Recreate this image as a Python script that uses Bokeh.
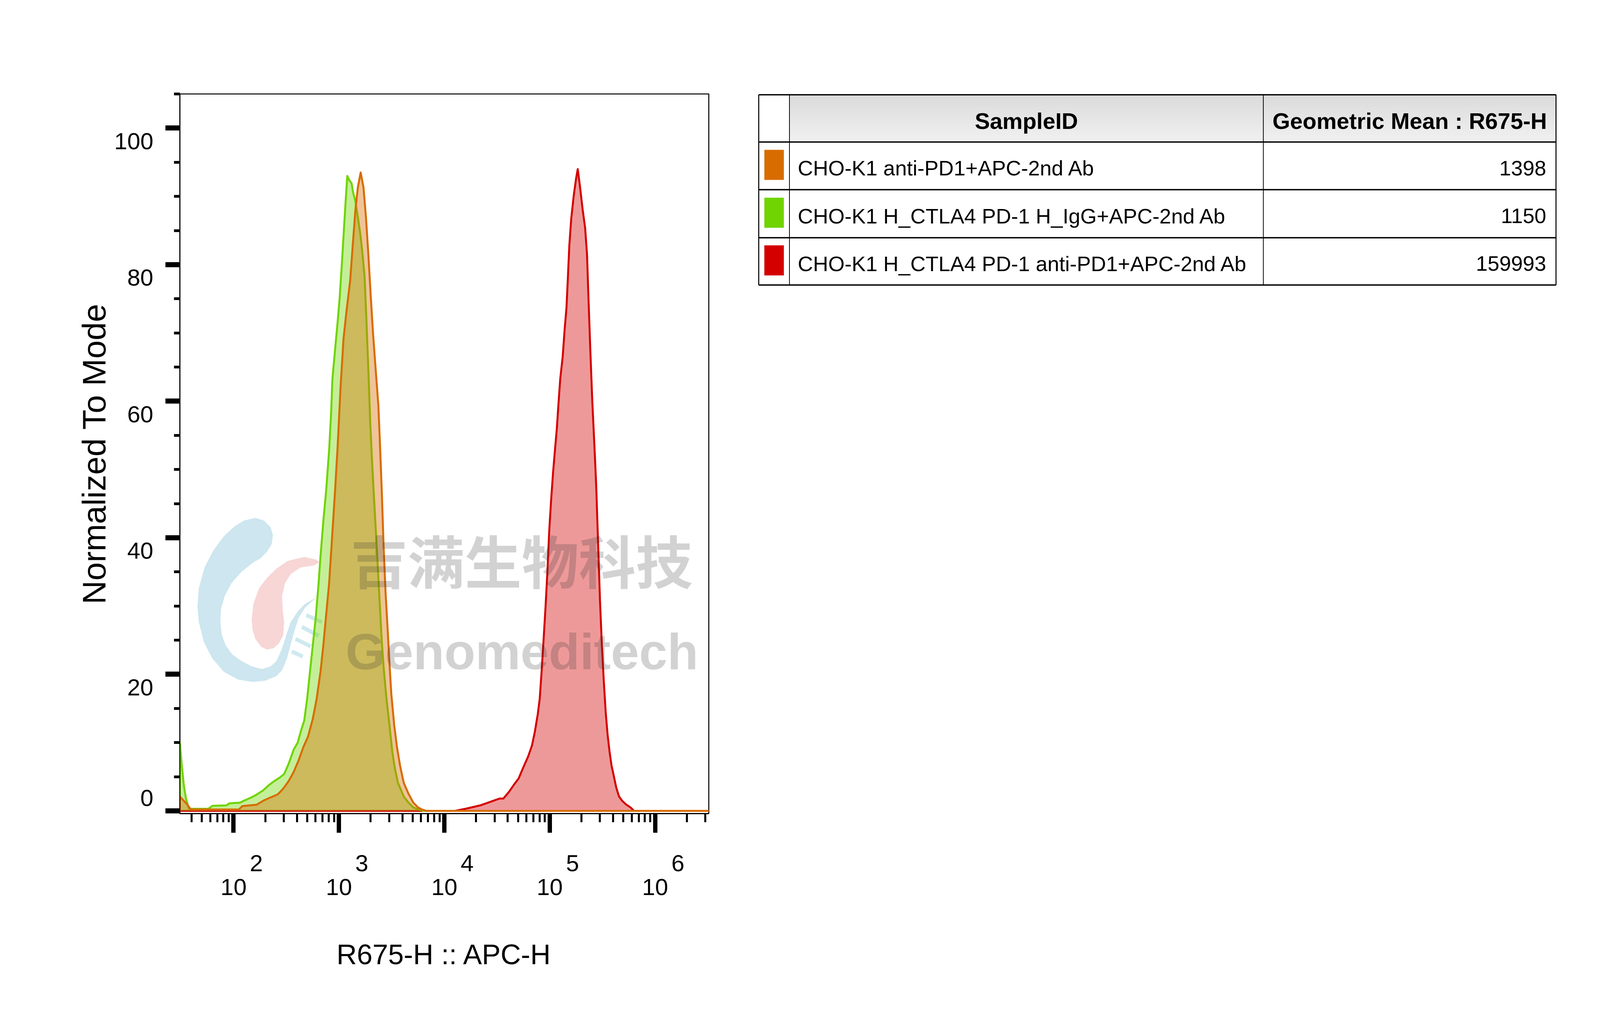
import math
from bokeh.plotting import figure
from bokeh.models import Range1d, FixedTicker, CustomJSTickFormatter, Label
from bokeh.layouts import row
from bokeh.embed import file_html
from bokeh.resources import INLINE
from bokeh.core.properties import value

FONT = "Liberation Sans"
CJK_FONT = "Noto Sans CJK SC"

# ------------------------------------------------------------------ data
sample_ids = [
    "CHO-K1 anti-PD1+APC-2nd Ab",
    "CHO-K1 H_CTLA4 PD-1 H_IgG+APC-2nd Ab",
    "CHO-K1 H_CTLA4 PD-1 anti-PD1+APC-2nd Ab",
]
geo_means = [1398, 1150, 159993]
series_colors = ["#d86c00", "#6fd400", "#d40000"]
table_headers = ["SampleID", "Geometric Mean : R675-H"]

x_axis_title = "R675-H :: APC-H"
y_axis_title = "Normalized To Mode"
x_decades = [2, 3, 4, 5, 6]
y_major_ticks = [0, 20, 40, 60, 80, 100]

# log10(R675-H) positions and "Normalized To Mode" values
orange_log_x = [1.4905, 1.4905, 1.52, 1.557, 1.595, 2.05, 2.083, 2.15, 2.217, 2.283, 2.341, 2.418,
                2.456, 2.480, 2.525, 2.571, 2.616, 2.661, 2.707, 2.752, 2.788, 2.825, 2.852, 2.879,
                2.907, 2.934, 2.961, 2.988, 3.015, 3.043, 3.070, 3.106, 3.134, 3.156, 3.179, 3.206,
                3.233, 3.256, 3.279, 3.302, 3.324, 3.352, 3.374, 3.388, 3.406, 3.424, 3.442, 3.461,
                3.479, 3.497, 3.524, 3.551, 3.579, 3.615, 3.660, 3.706, 3.751, 3.788, 3.83, 6.5095]
orange_mode = [0, 2.1, 1.6, 1.0, 0.2, 0.2, 0.7, 0.8, 0.9, 1.5, 1.9, 2.4,
               3.0, 3.44, 4.42, 5.72, 7.35, 9.3, 10.9, 13.5, 16.4, 20.4, 24.3, 28.8,
               33.4, 39.9, 46.4, 53.5, 62.0, 69.1, 73.0, 77.6, 83.5, 88.0, 91.3, 93.5,
               91.3, 87.0, 81.5, 75.3, 69.8, 63.9, 59.4, 54.2, 47.0, 38.6, 32.1, 26.9,
               21.7, 17.1, 12.6, 9.3, 6.7, 4.1, 2.5, 1.2, 0.5, 0.2, 0.0, 0.0]

green_log_x = [1.4905, 1.4905, 1.509, 1.528, 1.547, 1.576, 1.76, 1.80, 1.93, 1.96, 2.06, 2.10,
               2.16, 2.21, 2.28, 2.33, 2.38, 2.44, 2.48, 2.525, 2.571, 2.607, 2.643, 2.670,
               2.698, 2.725, 2.752, 2.779, 2.807, 2.825, 2.852, 2.879, 2.907, 2.925, 2.938, 2.961,
               2.988, 3.006, 3.025, 3.043, 3.061, 3.079, 3.097, 3.120, 3.134, 3.156, 3.179, 3.206,
               3.224, 3.243, 3.261, 3.279, 3.297, 3.315, 3.333, 3.352, 3.370, 3.388, 3.406, 3.424,
               3.451, 3.479, 3.506, 3.533, 3.560, 3.615, 3.660, 3.706, 3.760, 3.80, 6.5095]
green_mode = [0, 10.0, 6.6, 3.75, 1.9, 0.3, 0.3, 0.75, 0.8, 1.1, 1.2, 1.5,
              1.9, 2.3, 3.0, 3.7, 4.3, 4.9, 5.4, 7.0, 9.0, 9.95, 11.9, 13.2,
              16.4, 20.4, 24.3, 28.2, 33.4, 37.3, 42.5, 47.0, 52.9, 58.1, 63.3, 67.2,
              71.7, 75.0, 79.5, 84.1, 88.7, 93.0, 92.4, 91.9, 90.6, 89.3, 87.0, 84.1,
              81.5, 78.3, 71.7, 64.6, 56.8, 50.9, 45.7, 40.5, 35.3, 30.1, 24.9, 21.0,
              16.4, 12.6, 8.65, 6.05, 4.1, 2.1, 1.2, 0.5, 0.2, 0.0, 0.0]

red_log_x = [1.4905, 4.10, 4.20, 4.34, 4.45, 4.523, 4.560, 4.614, 4.659, 4.705, 4.750, 4.796,
             4.832, 4.859, 4.887, 4.905, 4.923, 4.941, 4.959, 4.977, 4.996, 5.014, 5.032, 5.050,
             5.068, 5.082, 5.100, 5.123, 5.141, 5.159, 5.173, 5.186, 5.204, 5.227, 5.250, 5.266,
             5.286, 5.313, 5.336, 5.354, 5.368, 5.386, 5.404, 5.422, 5.441, 5.459, 5.477, 5.495,
             5.513, 5.531, 5.549, 5.568, 5.586, 5.604, 5.631, 5.658, 5.686, 5.722, 5.767, 5.80, 6.5095]
red_mode = [0, 0, 0.3, 0.8, 1.4, 1.8, 1.8, 2.8, 3.8, 4.75, 6.4, 8.0,
            9.6, 11.6, 14.2, 16.4, 20.4, 24.9, 29.5, 34.7, 41.2, 45.7, 49.6, 52.9,
            56.1, 59.4, 63.3, 66.5, 70.4, 73.7, 78.3, 82.8, 86.7, 90.0, 92.6, 94.0,
            91.6, 88.0, 85.4, 81.5, 75.0, 67.2, 60.0, 54.2, 47.7, 39.2, 30.8, 24.3,
            19.05, 14.5, 11.2, 8.65, 6.7, 5.4, 3.44, 2.1, 1.5, 0.97, 0.5, 0.0, 0.0]

# watermark logo outlines (decoration), in reference-picture pixels
logo_blue = [(900, 1333), (930, 1340), (953, 1357), (961, 1377), (957, 1400), (940, 1420),
             (917, 1437), (893, 1447), (853, 1470), (817, 1500), (793, 1533), (780, 1567),
             (778, 1600), (783, 1633), (797, 1660), (820, 1683), (853, 1700), (887, 1713),
             (923, 1720), (953, 1713), (973, 1700), (993, 1667), (1010, 1627), (1023, 1600),
             (1047, 1573), (1073, 1553), (1110, 1538), (1073, 1563), (1050, 1590), (1037, 1620),
             (1023, 1657), (1010, 1693), (993, 1723), (973, 1738), (933, 1750), (890, 1753),
             (840, 1747), (790, 1727), (750, 1693), (720, 1650), (703, 1600), (698, 1560),
             (703, 1513), (723, 1460), (753, 1417), (790, 1380), (827, 1355), (860, 1340)]
logo_pink = [(887, 1593), (893, 1553), (913, 1513), (940, 1487), (973, 1463), (1013, 1443),
             (1070, 1433), (1113, 1440), (1123, 1447), (1103, 1455), (1057, 1460), (1023, 1477),
             (1003, 1500), (993, 1533), (995, 1567), (1000, 1600), (997, 1633), (983, 1653),
             (963, 1667), (940, 1670), (920, 1663), (900, 1643), (890, 1620)]
logo_bars = [((1077, 1582), (1132, 1600)), ((1062, 1612), (1120, 1635)),
             ((1040, 1643), (1093, 1662)), ((1027, 1675), (1065, 1688))]

# ------------------------------------------------------------------ geometry
# The page is rendered 4096 CSS px wide and 2598 tall: horizontal reference
# pixels are scaled by SX, vertical ones are kept as they are.
SX = 4096 / 5571
def sx(v):
    return v * SX
def sxi(v):
    return int(round(v * SX))

X_LOG_START, X_LOG_END = 1.4905, 6.5095
Y_START, Y_END = -0.4, 105
x_start, x_end = 10 ** X_LOG_START, 10 ** X_LOG_END

def ref_to_data(rx, ry):
    """reference-picture pixel -> (R675-H value, mode value) of the histogram axes"""
    return 10 ** (2 + (rx - 824) / 367.0), (2083 - ry) / 17.476

x_minor = [m * 10 ** d for d in range(1, 7) for m in (2, 3, 4, 5, 6, 7, 8, 9)
           if x_start <= m * 10 ** d <= x_end]
y_minor = [v for v in range(5, 106, 5) if v % 20 != 0]

FRAME_W = sxi(1842)
FRAME_H = 1842
B_LEFT = int(round(sx(637) - 8))
B_TOP = 248 - 8
TOTAL_H = 2598 - 16
B_BOTTOM = TOTAL_H - B_TOP - FRAME_H
B_RIGHT = 15
P_W = B_LEFT + FRAME_W + B_RIGHT
T_W = 4096 - 16 - P_W

TICK_FONT = "60px"

# ------------------------------------------------------------------ histogram figure
p = figure(width=P_W, height=TOTAL_H, frame_width=FRAME_W, frame_height=FRAME_H, x_axis_type="log",
           x_range=Range1d(x_start, x_end), y_range=Range1d(Y_START, Y_END),
           output_backend="svg", toolbar_location=None,
           min_border_left=B_LEFT, min_border_right=B_RIGHT,
           min_border_top=B_TOP, min_border_bottom=B_BOTTOM,
           outline_line_color="black", outline_line_width=2.6,
           background_fill_color="white", border_fill_color="white")
p.xgrid.visible = False
p.ygrid.visible = False

xa = p.xaxis[0]
xa.ticker = FixedTicker(ticks=[10 ** d for d in x_decades], minor_ticks=x_minor)
# "10" with its exponent raised above and to the right of it
xa.formatter = CustomJSTickFormatter(code=r"""
    const e = Math.round(Math.log10(tick));
    return '\u00a0\u00a0\u00a0\u00a0\u00a0\u00a0\u00a0' + e + '\n10';
""")
xa.major_label_text_font = FONT
xa.major_label_text_font_size = TICK_FONT
xa.major_label_text_color = "black"
xa.major_label_text_line_height = 0.92
xa.major_label_standoff = 44
xa.major_tick_out, xa.major_tick_in, xa.major_tick_line_width = 49, 0, sx(15)
xa.minor_tick_out, xa.minor_tick_in, xa.minor_tick_line_width = 22, 0, sx(7)
xa.axis_line_width = 3
xa.axis_label = x_axis_title
xa.axis_label_text_font = FONT
xa.axis_label_text_font_style = "normal"
xa.axis_label_text_font_size = "72px"
xa.axis_label_text_color = "black"
xa.axis_label_standoff = 96

ya = p.yaxis[0]
ya.ticker = FixedTicker(ticks=y_major_ticks, minor_ticks=y_minor)
# labels sit just below their tick, except 0 which sits just above it
ya.formatter = CustomJSTickFormatter(code=r"""
    return tick == 0 ? '0\n' : '\n' + tick;
""")
ya.major_tick_out, ya.major_tick_in, ya.major_tick_line_width = sxi(50), 0, 13
ya.minor_tick_out, ya.minor_tick_in, ya.minor_tick_line_width = sxi(21), 0, 7
ya.axis_line_width = sx(3)
ya.major_label_text_font = FONT
ya.major_label_text_font_size = TICK_FONT
ya.major_label_text_color = "black"
ya.major_label_text_line_height = 1.0
ya.major_label_standoff = 31
ya.axis_label = y_axis_title
ya.axis_label_text_font = FONT
ya.axis_label_text_font_style = "normal"
ya.axis_label_text_font_size = "84px"
ya.axis_label_text_color = "black"
ya.axis_label_standoff = 1

# watermark logo (drawn below the histograms)
bx, by = zip(*[ref_to_data(a, b) for a, b in logo_blue])
p.patch(x=list(bx), y=list(by), fill_color="#cde6ef", line_color=None)
kx, ky = zip(*[ref_to_data(a, b) for a, b in logo_pink])
p.patch(x=list(kx), y=list(ky), fill_color="#f7d6d5", line_color=None)
b0 = [ref_to_data(*a) for a, _ in logo_bars]
b1 = [ref_to_data(*b) for _, b in logo_bars]
p.segment(x0=[q[0] for q in b0], y0=[q[1] for q in b0], x1=[q[0] for q in b1], y1=[q[1] for q in b1],
          line_color="#cfe9f0", line_width=10)

series = [
    (red_log_x, red_mode, series_colors[2]),
    (green_log_x, green_mode, series_colors[1]),
    (orange_log_x, orange_mode, series_colors[0]),
]
for lx, mode, col in series:
    xs = [10 ** v for v in lx]
    p.varea(x=xs, y1=[0] * len(xs), y2=mode, fill_color=col, fill_alpha=0.4)
    p.line(x=xs, y=mode, line_color=col, line_width=5, line_join="round")

# watermark text
p.add_layout(Label(x=sx(1190), y=652, x_units="screen", y_units="screen", text="吉满生物科技",
                   text_align="center", text_baseline="middle",
                   text_font=CJK_FONT, text_font_style="bold", text_font_size="146px",
                   text_color="#303030", text_alpha=0.22))
p.add_layout(Label(x=sx(1191), y=415, x_units="screen", y_units="screen", text="Genomeditech",
                   text_align="center", text_baseline="middle",
                   text_font=FONT, text_font_style="bold", text_font_size="130px",
                   text_color="#303030", text_alpha=0.22))

# ------------------------------------------------------------------ statistics table figure
t = figure(width=T_W, height=TOTAL_H, frame_width=T_W, frame_height=FRAME_H,
           x_range=Range1d(0, T_W), y_range=Range1d(FRAME_H, 0),
           output_backend="svg", toolbar_location=None,
           min_border_left=0, min_border_right=0, min_border_top=B_TOP, min_border_bottom=B_BOTTOM,
           x_axis_location=None, y_axis_location=None, outline_line_color=None,
           background_fill_color="white", border_fill_color="white")
t.grid.visible = False

t_left = 8 + P_W                      # CSS x of the table figure
col_edges = [sx(v) - t_left for v in (2652, 2759, 4409, 5428)]
row_edges = [v - 248 for v in (250, 371, 493, 616, 737)]

# header gradient
n_steps = 30
h_top, h_bot = row_edges[0], row_edges[1]
step = (h_bot - h_top) / n_steps
tops, bots, cols = [], [], []
for i in range(n_steps):
    g = int(round(219 + (240 - 219) * i / (n_steps - 1)))
    tops.append(h_top + i * step)
    bots.append(h_top + (i + 1) * step + 0.5)
    cols.append("#%02x%02x%02x" % (g, g, g))
t.quad(left=col_edges[1], right=col_edges[3], top=tops, bottom=bots, fill_color=cols, line_color=None)

# grid lines
t.segment(x0=[col_edges[0]] * len(row_edges), x1=[col_edges[3]] * len(row_edges),
          y0=row_edges, y1=row_edges, line_color="black", line_width=3.5)
t.segment(x0=[col_edges[0], col_edges[3]], x1=[col_edges[0], col_edges[3]],
          y0=[row_edges[0]] * 2, y1=[row_edges[-1]] * 2, line_color="black", line_width=2.6)
t.segment(x0=[col_edges[1], col_edges[2]], x1=[col_edges[1], col_edges[2]],
          y0=[row_edges[0]] * 2, y1=[row_edges[-1]] * 2, line_color="black", line_width=1.9)

row_centers = [(row_edges[i] + row_edges[i + 1]) / 2 for i in range(1, len(row_edges) - 1)]
header_center = (row_edges[0] + row_edges[1]) / 2

t.rect(x=[(col_edges[0] + col_edges[1]) / 2] * 3, y=[c - 2.5 for c in row_centers],
       width=sx(68), height=77, fill_color=series_colors, line_color=None)

t.text(x=[(col_edges[1] + col_edges[2]) / 2, (col_edges[2] + col_edges[3]) / 2],
       y=[header_center + 6] * 2, text=table_headers,
       text_font=value(FONT), text_font_style="bold", text_font_size=value("58px"),
       text_align="center", text_baseline="middle", text_color="black")
t.text(x=[col_edges[1] + sx(29)] * 3, y=[c + 5.5 for c in row_centers], text=sample_ids,
       text_font=value(FONT), text_font_size=value("54px"),
       text_align="left", text_baseline="middle", text_color="black")
t.text(x=[col_edges[3] - sx(34)] * 3, y=[c + 5.5 for c in row_centers],
       text=[str(v) for v in geo_means],
       text_font=value(FONT), text_font_size=value("54px"),
       text_align="right", text_baseline="middle", text_color="black")

layout = row(p, t)
open("out.html", "w").write(file_html(layout, INLINE))
